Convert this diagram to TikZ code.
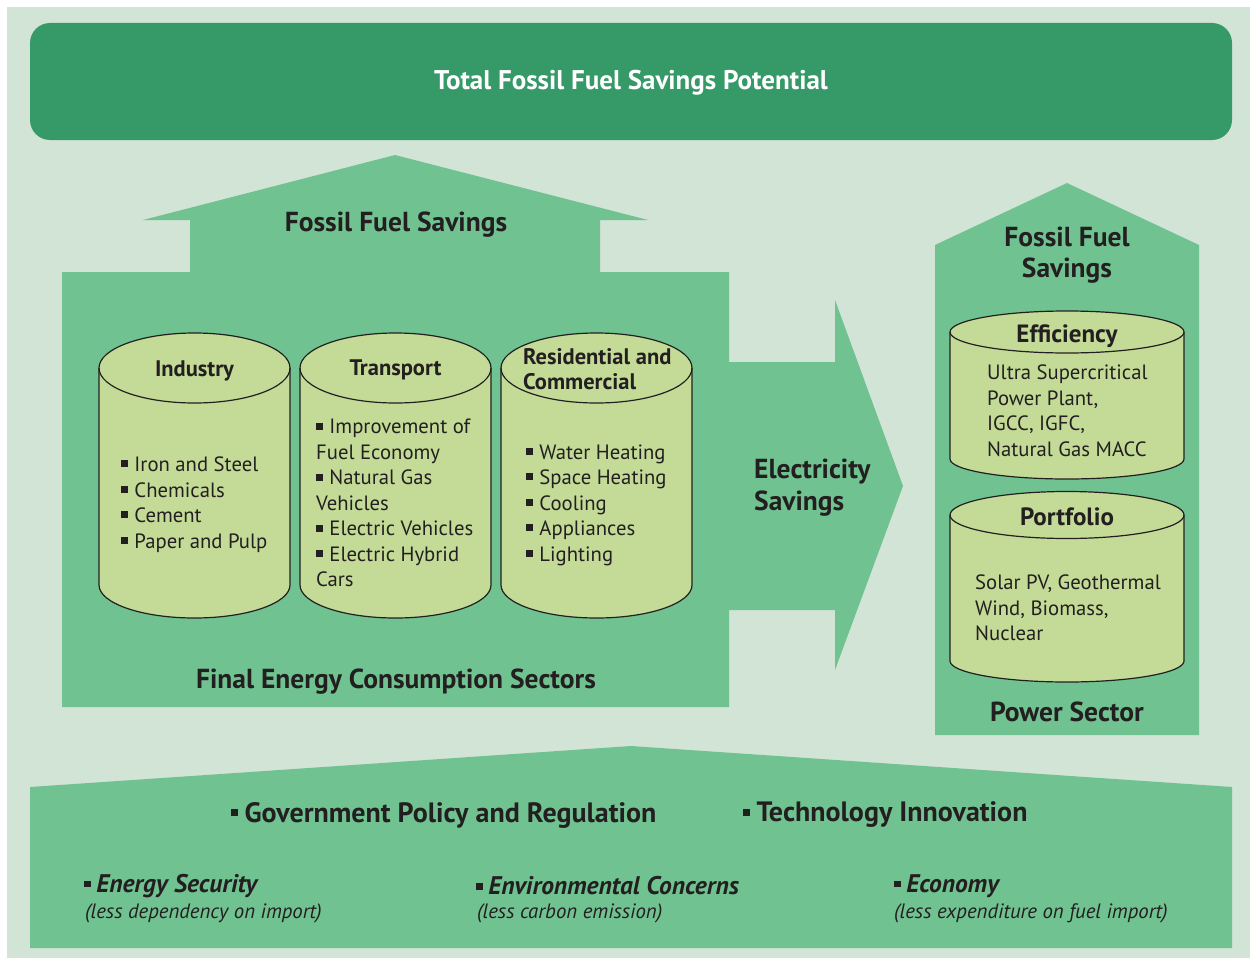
\documentclass[tikz,border=0pt]{standalone}
\usepackage{fontspec}
\setmainfont{PT Sans}
\definecolor{bgc}{HTML}{D2E4D6}
\definecolor{bannerc}{HTML}{359A68}
\definecolor{midc}{HTML}{70C391}
\definecolor{cylc}{HTML}{C3DB97}
\definecolor{inkc}{HTML}{231F20}
\newcommand\bul{\rule[0.2em]{0.34em}{0.34em}\hspace{0.3em}}
\newcommand\sbul{\rule[0.2em]{0.26em}{0.26em}\hspace{0.22em}}
\newcommand\mycyl[6]{%
 \filldraw[cylbody] (#1,#3) -- (#1,#5) arc[start angle=180,end angle=0,x radius={(#2-#1)/2},y radius=#6] -- (#2,#3) arc[start angle=0,end angle=-180,x radius={(#2-#1)/2},y radius=#4] -- cycle;
 \draw[cylline] (#1,#3) arc[start angle=180,end angle=0,x radius={(#2-#1)/2},y radius=#4];
}
\tikzset{
 cylbody/.style={fill=cylc,draw=inkc,line width=1.2pt,line join=round},
 cylline/.style={draw=inkc,line width=1.2pt},
 items/.style={anchor=west,inner sep=0pt,align=left,text=inkc,font=\fontsize{20.7}{25.5}\selectfont},
 ctitle/.style={inner sep=0pt,align=center,text=inkc,font=\bfseries\fontsize{22.5}{25}\selectfont},
 bigtitle/.style={inner sep=0pt,align=center,text=inkc,font=\bfseries\fontsize{27.5}{31.5}\selectfont},
 banner/.style={fill=bannerc,rounded corners=20pt,minimum width=1202pt,minimum height=117pt,text=white,font=\bfseries\fontsize{27}{30}\selectfont},
 bottomtxt/.style={inner sep=0pt,anchor=west,text=inkc,font=\bfseries\fontsize{28}{30}\selectfont},
 drvtxt/.style={inner sep=0pt,anchor=west,text=inkc,font=\bfseries\itshape\fontsize{25.5}{26}\selectfont},
 notetxt/.style={inner sep=0pt,anchor=west,text=inkc,font=\itshape\fontsize{20.8}{22}\selectfont},
}
\begin{document}
\begin{tikzpicture}[x=1pt,y=-1pt]
\useasboundingbox (0,0) rectangle (1250,958);
\fill[white] (0,0) rectangle (1250,958);
\fill[bgc] (7,7) rectangle (1250,958);
% banner
\fill[bannerc,rounded corners=20pt] (30,23) rectangle (1232,140);
\node[banner,fill=none] (title) at (631,82.5) {Total Fossil Fuel Savings Potential};
% left block with up arrow and right arrow
\fill[midc] (62,272) -- (190,272) -- (190,220) -- (143,220) -- (395,155) -- (648,220) -- (600,220) -- (600,272) -- (729,272) -- (729,362) -- (835,362) -- (835,300) -- (903,486) -- (835,670) -- (835,610) -- (729,610) -- (729,707) -- (62,707) -- cycle;
% right panel
\fill[midc] (935,245) -- (1067,183) -- (1199,245) -- (1199,735) -- (935,735) -- cycle;
% bottom panel
\fill[midc] (30,787) -- (631,746) -- (1232,787) -- (1232,948) -- (30,948) -- cycle;
% cylinders
\mycyl{99}{290}{368}{35}{585}{33}
\mycyl{300}{491}{368}{35}{585}{33}
\mycyl{501}{692}{368}{35}{585}{33}
\mycyl{950}{1184}{332}{21}{459}{20}
\mycyl{950}{1184}{515}{23.5}{661}{21}
% titles
\node[bigtitle] (ffs) at (396,225) {Fossil Fuel Savings};
\node[bigtitle] (fecs) at (396,682) {Final Energy Consumption Sectors};
\node[bigtitle,anchor=west,align=left] (elec) at (754,487.5) {Electricity\\Savings};
\node[bigtitle] (ffs2) at (1067,255) {Fossil Fuel\\Savings};
\node[bigtitle] (power) at (1067,712) {Power Sector};
% cylinder titles
\node[ctitle] (ind) at (194.5,371) {Industry};
\node[ctitle] (tra) at (395.5,370) {Transport};
\node[ctitle,anchor=west,align=left] (res) at (523,369) {Residential and\\Commercial};
\node[ctitle,font=\bfseries\fontsize{25}{25}\selectfont] (eff) at (1067,336) {Efficiency};
\node[ctitle,font=\bfseries\fontsize{25}{25}\selectfont] (por) at (1067,516.5) {Portfolio};
% items
\node[items] (indi) at (121,504.5) {\bul Iron and Steel\\\bul Chemicals\\\bul Cement\\\bul Paper and Pulp};
\node[items] (trai) at (316,503) {\bul Improvement of\\Fuel Economy\\\bul Natural Gas\\Vehicles\\\bul Electric Vehicles\\\bul Electric Hybrid\\Cars};
\node[items] (resi) at (526,505) {\bul Water Heating\\\bul Space Heating\\\bul Cooling\\\bul Appliances\\\bul Lighting};
\node[items] (effi) at (987,411) {Ultra Supercritical\\Power Plant,\\IGCC, IGFC,\\Natural Gas MACC};
\node[items] (pori) at (975,608) {Solar PV, Geothermal\\Wind, Biomass,\\Nuclear};
% bottom texts
\node[bottomtxt] (gov) at (231,815) {\sbul Government Policy and Regulation};
\node[bottomtxt] (tech) at (743,815) {\sbul Technology Innovation};
\node[drvtxt] (sec) at (84,886) {\sbul Energy Security};
\node[notetxt] (secn) at (85,913) {(less dependency on import)};
\node[drvtxt] (env) at (476,886) {\sbul Environmental Concerns};
\node[notetxt] (envn) at (477,913) {(less carbon emission)};
\node[drvtxt] (eco) at (894,886) {\sbul Economy};
\node[notetxt] (econ) at (894,913) {(less expenditure on fuel import)};
\end{tikzpicture}
\end{document}
